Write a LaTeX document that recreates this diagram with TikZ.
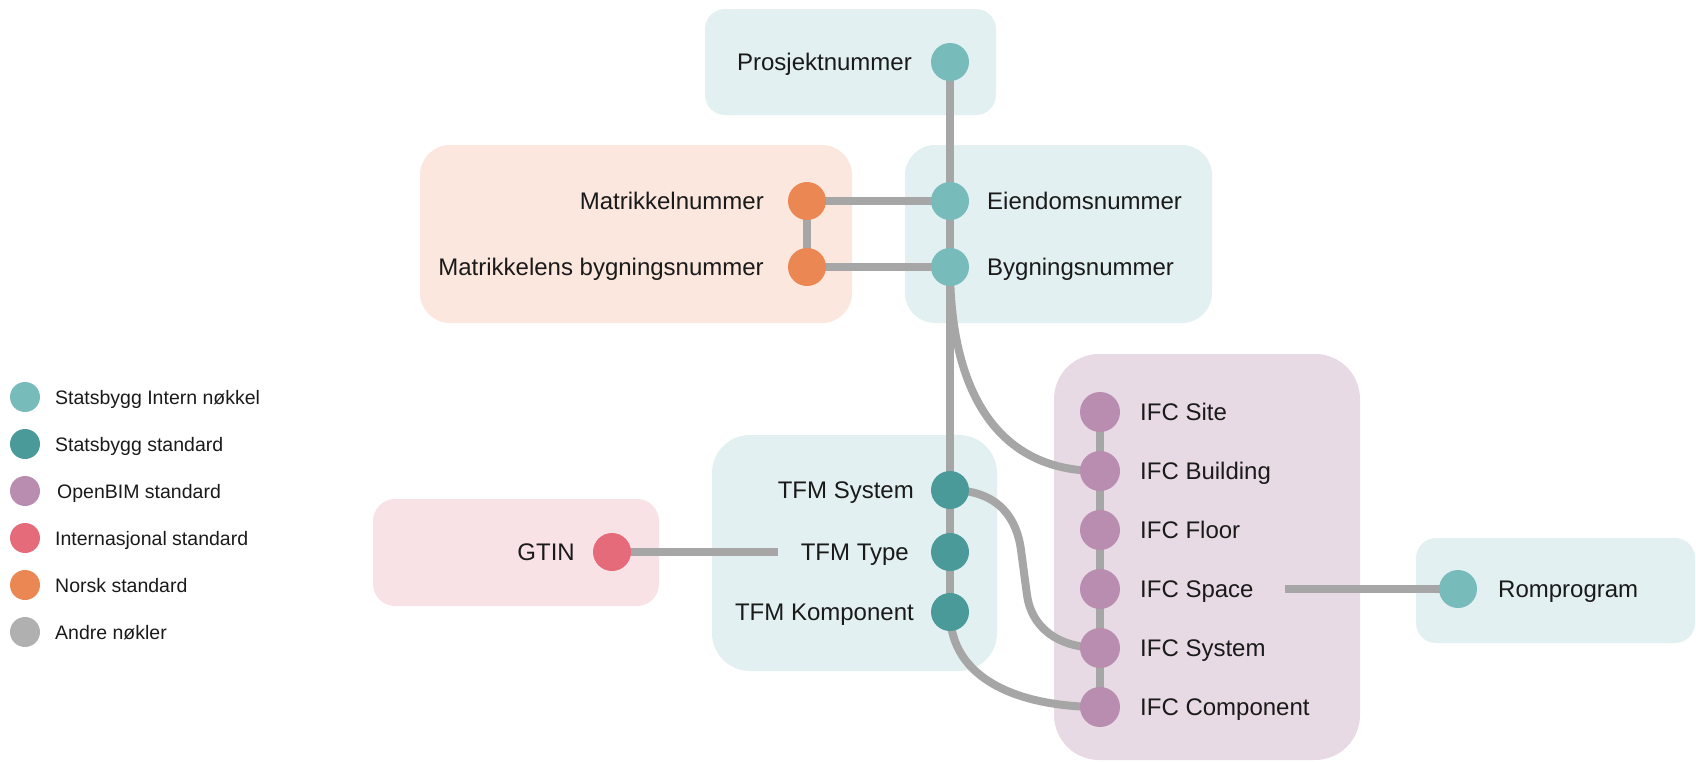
\documentclass[tikz,border=0pt]{standalone}
\usepackage{fontspec}
\setmainfont{Liberation Sans}
\pgfdeclarelayer{boxes}
\pgfdeclarelayer{links}
\pgfsetlayers{boxes,links,main}
\definecolor{sbi}{HTML}{78BBBB}
\definecolor{sbs}{HTML}{4A9A9A}
\definecolor{obim}{HTML}{B98DB0}
\definecolor{intl}{HTML}{E56B7B}
\definecolor{nor}{HTML}{EB8752}
\definecolor{oth}{HTML}{B0B0B0}
\definecolor{linkgray}{HTML}{A6A6A6}
\definecolor{txt}{HTML}{1A1A1A}
\definecolor{fteal}{HTML}{E2F0F1}
\definecolor{forange}{HTML}{FBE7DD}
\definecolor{fpink}{HTML}{F9E2E5}
\definecolor{fpurple}{HTML}{E8DAE4}
\begin{document}
\begin{tikzpicture}[x=1pt,y=-1pt,
  dot/.style={circle,inner sep=0pt,minimum size=38pt},
  bigdot/.style={circle,inner sep=0pt,minimum size=40pt},
  ldot/.style={circle,inner sep=0pt,minimum size=30pt},
  lbl/.style={inner sep=0pt,font=\fontsize{24}{28}\selectfont,text=txt},
  leg/.style={inner sep=0pt,font=\fontsize{19.5}{23}\selectfont,text=txt,anchor=base west},
  link/.style={draw=linkgray,line width=8pt}]
\useasboundingbox (0,0) rectangle (1696,761);

% boxes
\begin{pgfonlayer}{boxes}
\fill[fteal,rounded corners=20pt] (705,9) rectangle (996,115);
\fill[forange,rounded corners=30pt] (420,145) rectangle (852,323);
\fill[fteal,rounded corners=30pt] (905,145) rectangle (1212,323);
\fill[fteal,rounded corners=38pt] (712,435) rectangle (997,671);
\fill[fpink,rounded corners=22pt] (373,499) rectangle (659,606);
\fill[fpurple,rounded corners=45pt] (1054,354) rectangle (1360,760);
\fill[fteal,rounded corners=20pt] (1416,538) rectangle (1695,643);
\end{pgfonlayer}

% legend
\node[ldot,fill=sbi] (l1) at (25,397) {};
\node[ldot,fill=sbs] (l2) at (25,444) {};
\node[ldot,fill=obim] (l3) at (25,491) {};
\node[ldot,fill=intl] (l4) at (25,538) {};
\node[ldot,fill=nor] (l5) at (25,585) {};
\node[ldot,fill=oth] (l6) at (25,632) {};
\node[leg] (lt1) at (55,404) {Statsbygg Intern nøkkel};
\node[leg] (lt2) at (55,451) {Statsbygg standard};
\node[leg] (lt3) at (57,498) {OpenBIM standard};
\node[leg] (lt4) at (55,545) {Internasjonal standard};
\node[leg] (lt5) at (55,592) {Norsk standard};
\node[leg] (lt6) at (55,639) {Andre nøkler};

% dots
\node[dot,fill=sbi] (prosj) at (950,62) {};
\node[dot,fill=sbi] (eiend) at (950,201) {};
\node[dot,fill=sbi] (bygn) at (950,267) {};
\node[dot,fill=nor] (matr) at (807,201) {};
\node[dot,fill=nor] (matrb) at (807,267) {};
\node[dot,fill=sbs] (tfmsys) at (950,490) {};
\node[dot,fill=sbs] (tfmtype) at (950,552) {};
\node[dot,fill=sbs] (tfmkomp) at (950,612) {};
\node[dot,fill=intl] (gtin) at (612,552) {};
\node[bigdot,fill=obim] (ifcsite) at (1100,412) {};
\node[bigdot,fill=obim] (ifcbuild) at (1100,471) {};
\node[bigdot,fill=obim] (ifcfloor) at (1100,530) {};
\node[bigdot,fill=obim] (ifcspace) at (1100,589) {};
\node[bigdot,fill=obim] (ifcsys) at (1100,648) {};
\node[bigdot,fill=obim] (ifccomp) at (1100,707) {};
\node[dot,fill=sbi] (romp) at (1458,589) {};

% labels
\node[lbl,anchor=base east] (tprosj) at (912,70.6) {Prosjektnummer};
\node[lbl,anchor=base east] (tmatr) at (764,209.6) {Matrikkelnummer};
\node[lbl,anchor=base east] (tmatrb) at (764,275.6) {Matrikkelens bygningsnummer};
\node[lbl,anchor=base west] (teiend) at (987,209.6) {Eiendomsnummer};
\node[lbl,anchor=base west] (tbygn) at (987,275.6) {Bygningsnummer};
\node[lbl,anchor=base east] (ttfmsys) at (914,498.6) {TFM System};
\node[lbl,anchor=base east] (ttfmtype) at (909,560.6) {TFM Type};
\node[lbl,anchor=base east] (ttfmkomp) at (914,620.6) {TFM Komponent};
\node[lbl,anchor=base east] (tgtin) at (575,560.6) {GTIN};
\node[lbl,anchor=base west] (tsite) at (1140,420.6) {IFC Site};
\node[lbl,anchor=base west] (tbuild) at (1140,479.6) {IFC Building};
\node[lbl,anchor=base west] (tfloor) at (1140,538.6) {IFC Floor};
\node[lbl,anchor=base west] (tspace) at (1140,597.6) {IFC Space};
\node[lbl,anchor=base west] (tsys) at (1140,656.6) {IFC System};
\node[lbl,anchor=base west] (tcomp) at (1140,715.6) {IFC Component};
\node[lbl,anchor=base west] (tromp) at (1498,597.6) {Romprogram};

\coordinate (gtinend) at (778,552);
\coordinate (spaceend) at (1285,589);
\coordinate (s1) at (1021,550);
\coordinate (s2) at (1027,595);

% links
\begin{pgfonlayer}{links}
\draw[link] (prosj.center) -- (eiend.center) -- (bygn.center) -- (tfmsys.center) -- (tfmtype.center) -- (tfmkomp.center);
\draw[link] (matr.center) -- (eiend.center);
\draw[link] (matr.center) -- (matrb.center);
\draw[link] (matrb.center) -- (bygn.center);
\draw[link] (gtin.center) -- (gtinend);
\draw[link] (ifcsite.center) -- (ifccomp.center);
\draw[link] (spaceend) -- (romp.center);
\draw[link] (bygn.center) .. controls (950,380) and (990,472) .. (ifcbuild.center);
\draw[link] (tfmsys.center) .. controls (1000,490) and (1017,520) .. (s1) -- (s2) .. controls (1031,625) and (1055,648) .. (ifcsys.center);
\draw[link] (tfmkomp.center) .. controls (950,680) and (1020,707) .. (ifccomp.center);
\end{pgfonlayer}
\end{tikzpicture}
\end{document}
